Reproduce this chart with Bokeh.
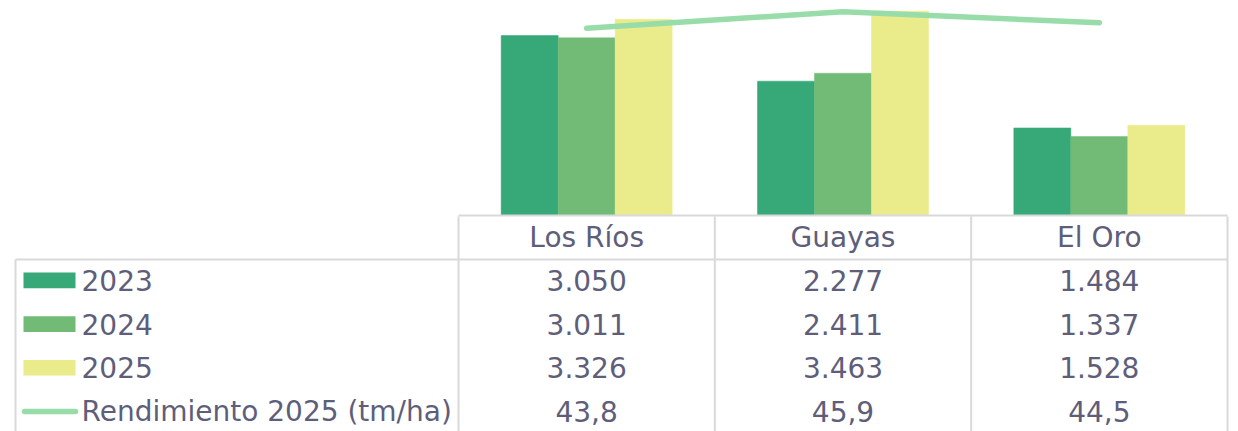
from bokeh.plotting import figure
from bokeh.models import Range1d, ColumnDataSource
from bokeh.transform import dodge
from bokeh.core.properties import value
from bokeh.embed import file_html
from bokeh.resources import INLINE

# ---------------- data ----------------
categories = ["Los Ríos", "Guayas", "El Oro"]
series_names = ["2023", "2024", "2025"]
v2023 = [3050, 2277, 1484]
v2024 = [3011, 2411, 1337]
v2025 = [3326, 3463, 1528]
line_name = "Rendimiento 2025 (tm/ha)"
rend2025 = [43.8, 45.9, 44.5]

# ---------------- styles ----------------
bar_colors = ["#37A878", "#71BB77", "#EAEB8A"]
line_color = "#98DDA9"
text_color = "#5E5E7A"
grid_color = "#D9D9D9"
FONT = "DejaVu Sans"
FSIZE = "28px"

W, H = 1238, 431
O = 0  # page offset of the figure
cat_w = 256.33
x0_page = 458.0
x_start = (O - x0_page) / cat_w
x_end = (O + W - x0_page) / cat_w
base_page = 215.0
ppu = 0.059
y_start = -(O + H - base_page) / ppu
y_end = (base_page - O) / ppu
# secondary axis (line)
l_ref_v, l_ref_y, l_ppu = 43.8, 27.7, 7.8
l_end = l_ref_v + (l_ref_y - O) / l_ppu
l_start = l_ref_v - (O + H - l_ref_y) / l_ppu


def fmt_int(v):
    return f"{v:,}".replace(",", ".")


def fmt_dec(v):
    return f"{v:.1f}".replace(".", ",")


xc = [i + 0.5 for i in range(len(categories))]
src = ColumnDataSource(dict(x=xc, cat=categories, y2023=v2023, y2024=v2024,
                            y2025=v2025, rend=rend2025))

p = figure(width=W, height=H, output_backend="svg", toolbar_location=None,
           x_range=Range1d(x_start, x_end), y_range=Range1d(y_start, y_end),
           x_axis_location=None, y_axis_location=None, min_border=0,
           outline_line_color=None, background_fill_color="white")
p.grid.visible = False
p.extra_x_ranges = {"px": Range1d(O, O + W)}
p.extra_y_ranges = {"tbl": Range1d(O + H, O), "rend": Range1d(l_start, l_end)}

bw = 57 / cat_w
cols = ["y2023", "y2024", "y2025"]
for k, (c, col) in enumerate(zip(cols, bar_colors)):
    p.vbar(x=dodge("x", (k - 1) * bw, range=p.x_range), top=c, bottom=0,
           width=bw, source=src, fill_color=col, line_color=col, line_width=0.5)

p.line(x="x", y="rend", source=src, y_range_name="rend", line_color=line_color,
       line_width=5.5, line_cap="round", line_join="round")

# ---------------- data table ----------------
p.segment(x0=[0], y0=[0], x1=[len(categories)], y1=[0], line_color=grid_color, line_width=2)
p.segment(x0=[15], y0=[259], x1=[1227], y1=[259], x_range_name="px", y_range_name="tbl",
          line_color=grid_color, line_width=2)
p.segment(x0=list(range(len(categories) + 1)), y0=[216] * 4,
          x1=list(range(len(categories) + 1)), y1=[435] * 4,
          y_range_name="tbl", line_color=grid_color, line_width=2)
p.segment(x0=[15], y0=[259], x1=[15], y1=[435], x_range_name="px", y_range_name="tbl",
          line_color=grid_color, line_width=2)

text_kw = dict(text_font=value(FONT), text_font_size=FSIZE, text_color=text_color,
               text_baseline="middle")
p.text(x=xc, y=[236.5] * 3, text=categories, y_range_name="tbl", text_align="center", **text_kw)

row_mid = [280.0, 323.7, 367.4, 411.1]
rows = [[fmt_int(v) for v in v2023], [fmt_int(v) for v in v2024],
        [fmt_int(v) for v in v2025], [fmt_dec(v) for v in rend2025]]
for r, vals in enumerate(rows):
    p.text(x=xc, y=[row_mid[r]] * 3, text=vals, y_range_name="tbl",
           text_align="center", **text_kw)

for r, col in enumerate(bar_colors):
    p.quad(left=[23], right=[75], top=[row_mid[r] - 8], bottom=[row_mid[r] + 7.7],
           x_range_name="px", y_range_name="tbl", fill_color=col, line_color=None)
p.segment(x0=[24], y0=[row_mid[3]], x1=[75], y1=[row_mid[3]], x_range_name="px",
          y_range_name="tbl", line_color=line_color, line_width=5.5, line_cap="round")
p.text(x=[81] * 4, y=row_mid, text=series_names + [line_name], x_range_name="px",
       y_range_name="tbl", text_align="left", **text_kw)

open("out.html", "w").write(file_html(p, INLINE))
